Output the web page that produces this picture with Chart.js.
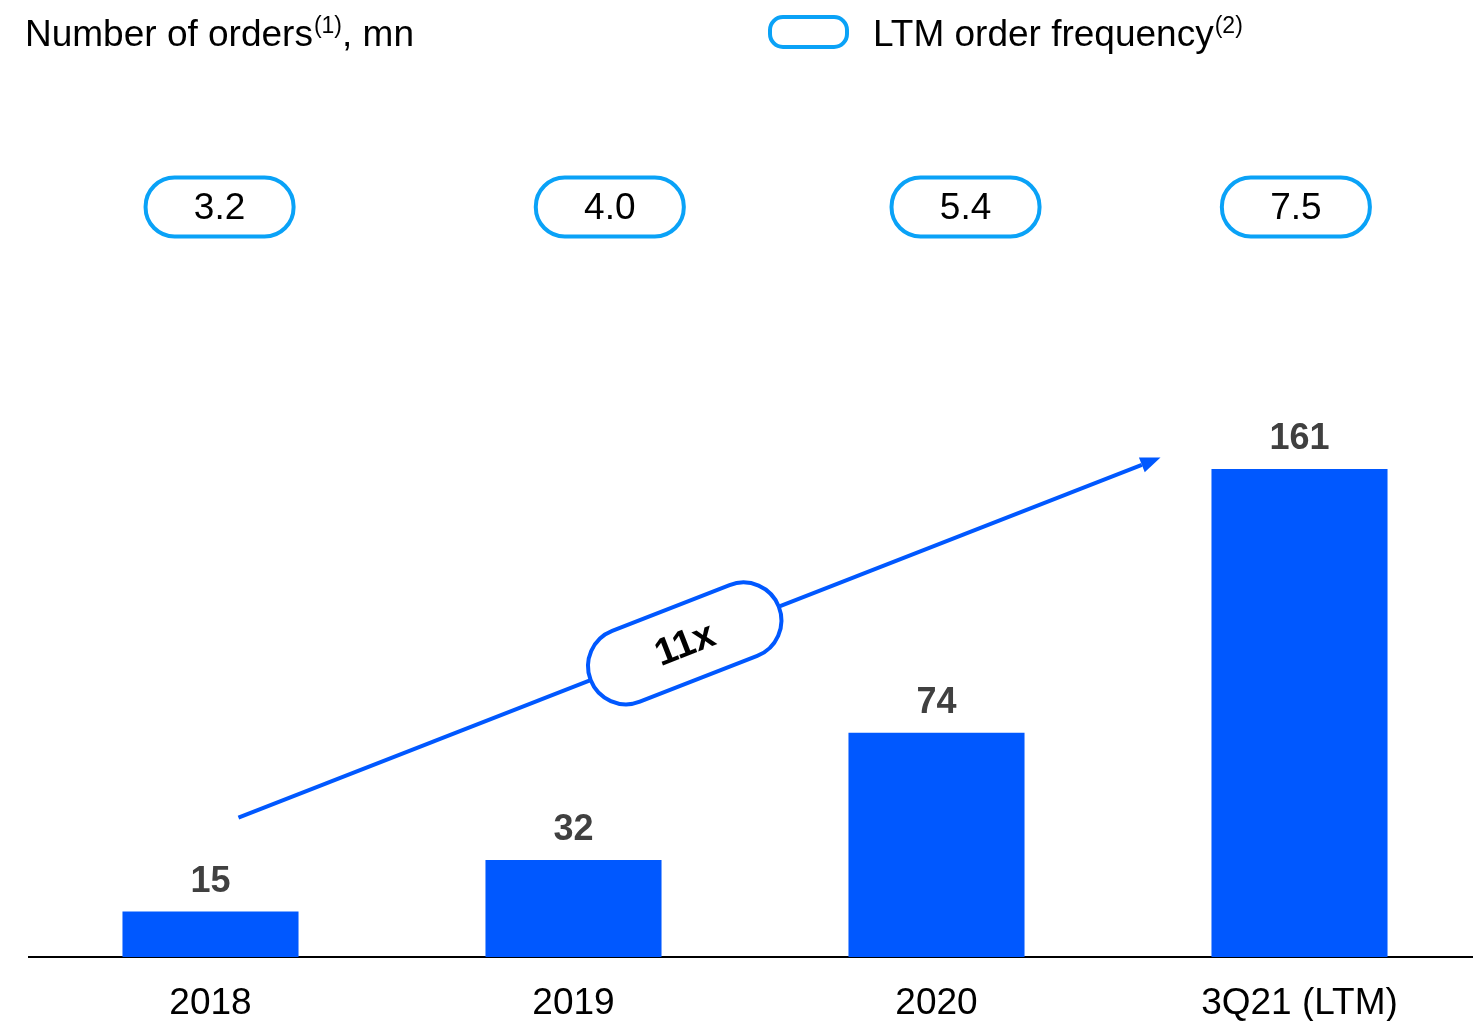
<html>
<head>
  <title>Number of orders</title>
  <style>
    html, body { margin: 0; padding: 0; overflow: hidden; background: #fff; }
    canvas { display: block; }
  </style>
</head>
<body>
<canvas id="myChart" width="1481" height="1021"></canvas>

<script src="https://cdn.jsdelivr.net/npm/chart.js"></script>

<script>
  // data
  const years = ['2018', '2019', '2020', '3Q21 (LTM)'];
  const orders = [15, 32, 74, 161];          // mn
  const frequency = ['3.2', '4.0', '5.4', '7.5'];
  const growthLabel = '11x';

  const BLUE = '#0058ff';
  const LIGHT = '#0aa2f7';
  const FONT = '"Liberation Sans", Arial, sans-serif';

  function pill(c, x, y, w, h, r) {
    c.beginPath();
    c.moveTo(x + r, y);
    c.lineTo(x + w - r, y);
    c.arc(x + w - r, y + r, r, -Math.PI / 2, 0);
    c.lineTo(x + w, y + h - r);
    c.arc(x + w - r, y + h - r, r, 0, Math.PI / 2);
    c.lineTo(x + r, y + h);
    c.arc(x + r, y + h - r, r, Math.PI / 2, Math.PI);
    c.lineTo(x, y + r);
    c.arc(x + r, y + r, r, Math.PI, Math.PI * 1.5);
    c.closePath();
  }

  // text with a superscript note, e.g. "orders(1), mn"
  function supText(c, x, y, main, sup, rest) {
    c.font = '37px ' + FONT;
    c.fillText(main, x, y);
    x += c.measureText(main).width + 1;
    c.font = '23px ' + FONT;
    c.fillText(sup, x, y - 13);
    x += c.measureText(sup).width;
    if (rest) {
      c.font = '37px ' + FONT;
      c.fillText(rest, x, y);
    }
  }

  const decor = {
    id: 'decor',
    afterDraw(chart, args, opts) {
      const c = chart.ctx;
      const xs = chart.scales.x, ys = chart.scales.y;
      c.save();
      c.fillStyle = '#000';
      c.textAlign = 'left';
      c.textBaseline = 'alphabetic';

      // header
      supText(c, 25, 46, 'Number of orders', '(1)', ', mn');
      c.lineWidth = 4;
      c.strokeStyle = LIGHT;
      pill(c, 770, 17, 77, 30, 13);
      c.stroke();
      c.fillStyle = '#000';
      supText(c, 873, 46, 'LTM order frequency', '(2)');

      // frequency pills
      c.textAlign = 'center';
      c.textBaseline = 'middle';
      frequency.forEach((f, i) => {
        const cx = xs.getPixelForValue(i + opts.pillShift[i]);
        const cy = ys.getPixelForValue(opts.pillLevel);
        c.lineWidth = 4;
        c.strokeStyle = LIGHT;
        pill(c, cx - 74, cy - 29.5, 148, 59, 29);
        c.stroke();
        c.fillStyle = '#000';
        c.font = '37px ' + FONT;
        c.fillText(f, cx, cy + 2);
      });

      // value labels above bars
      c.textBaseline = 'alphabetic';
      c.fillStyle = '#404040';
      c.font = 'bold 36px ' + FONT;
      chart.getDatasetMeta(0).data.forEach((bar, i) => {
        c.fillText(String(orders[i]), bar.x, bar.y - 20);
      });

      // growth arrow
      const a = opts.arrow;
      const x0 = xs.getPixelForValue(a.from[0]), y0 = ys.getPixelForValue(a.from[1]);
      const x1 = xs.getPixelForValue(a.to[0]), y1 = ys.getPixelForValue(a.to[1]);
      const ang = Math.atan2(y1 - y0, x1 - x0);
      const head = 20;
      c.strokeStyle = BLUE;
      c.fillStyle = BLUE;
      c.lineWidth = 4;
      c.beginPath();
      c.moveTo(x0, y0);
      c.lineTo(x1 - head * Math.cos(ang), y1 - head * Math.sin(ang));
      c.stroke();
      c.beginPath();
      c.moveTo(x1, y1);
      c.lineTo(x1 - head * Math.cos(ang) + 8 * Math.sin(ang), y1 - head * Math.sin(ang) - 8 * Math.cos(ang));
      c.lineTo(x1 - head * Math.cos(ang) - 8 * Math.sin(ang), y1 - head * Math.sin(ang) + 8 * Math.cos(ang));
      c.closePath();
      c.fill();

      // 11x pill on the arrow
      const px = x0 + (x1 - x0) * a.at, py = y0 + (y1 - y0) * a.at;
      c.translate(px, py);
      c.rotate(ang);
      pill(c, -101, -38, 202, 76, 38);
      c.fillStyle = '#fff';
      c.fill();
      c.strokeStyle = BLUE;
      c.lineWidth = 4;
      c.stroke();
      c.fillStyle = '#000';
      c.font = 'bold 38px ' + FONT;
      c.textAlign = 'center';
      c.textBaseline = 'middle';
      c.fillText(growthLabel, 0, 2);
      c.restore();
    }
  };

  const ctx = document.getElementById('myChart');
  new Chart(ctx, {
    type: 'bar',
    data: {
      labels: years,
      datasets: [{
        data: orders,
        backgroundColor: BLUE,
        borderWidth: 0,
        barPercentage: 0.485,
        categoryPercentage: 1
      }]
    },
    options: {
      responsive: false,
      animation: false,
      layout: { padding: { left: 29, right: 0, top: 60, bottom: -29 } },
      plugins: {
        legend: { display: false },
        tooltip: { enabled: false },
        decor: {
          pillShift: [0.025, 0.1, 0.08, -0.01],
          pillLevel: 247.5,
          arrow: { from: [0.077, 46], to: [2.617, 164.8], at: 0.484 }
        }
      },
      scales: {
        x: {
          grid: { display: false, drawTicks: false },
          border: { display: true, color: '#000', width: 2 },
          ticks: {
            color: '#000',
            padding: 28,
            font: { family: FONT, size: 37, lineHeight: 1 }
          }
        },
        y: {
          display: false,
          min: 0,
          max: 296
        }
      }
    },
    plugins: [decor]
  });
</script>
</body>
</html>
